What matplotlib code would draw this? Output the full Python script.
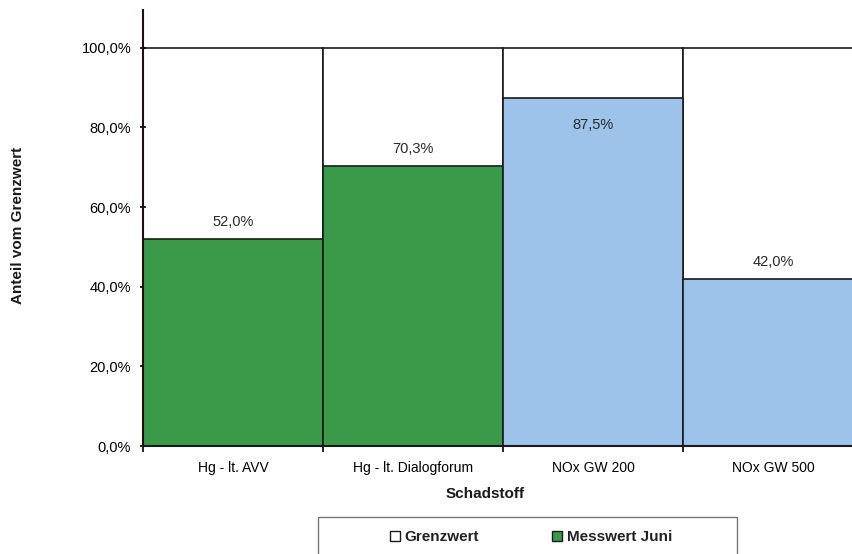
import matplotlib
matplotlib.use("Agg")
import matplotlib.pyplot as plt
from matplotlib.patches import Patch, Rectangle

plt.rcParams['font.family'] = ['Liberation Sans', 'DejaVu Sans']

categories = ["Hg - lt. AVV", "Hg - lt. Dialogforum", "NOx GW 200", "NOx GW 500"]
grenzwert = [100.0, 100.0, 100.0, 100.0]
messwert = [52.0, 70.3, 87.5, 42.0]
bar_colors = ["#3a9a4a", "#3a9a4a", "#9dc3ea", "#9dc3ea"]
yticks = [0, 20, 40, 60, 80, 100]

fig = plt.figure(figsize=(8.52, 5.54), dpi=100)
ax = fig.add_axes([143/852, 1-446/554, (863-143)/852, (446-10)/554])

x = list(range(len(categories)))
ax.bar(x, grenzwert, width=1.0, color="white", edgecolor="#1a1a1a", linewidth=1.2, zorder=1)
ax.bar(x, messwert, width=1.0, color=bar_colors, edgecolor="#1a1a1a", linewidth=1.2, zorder=2)

for xi, v in zip(x, messwert):
    label = f"{v:.1f}%".replace(".", ",")
    if v > 80:
        ax.text(xi, v - 7, label, ha="center", va="center", fontsize=10.5, color="#2a2a2a", zorder=3)
    else:
        ax.text(xi, v + 4.3, label, ha="center", va="center", fontsize=10.5, color="#2a2a2a", zorder=3)

ax.set_xlim(-0.5, len(categories) - 0.5)
ax.set_ylim(0, 109.5)
ax.set_yticks(yticks)
ax.set_yticklabels([f"{t:.1f}%".replace(".", ",") for t in yticks], fontsize=10.5)
ax.set_xticks(x)
ax.set_xticklabels(categories, fontsize=10)
ax.tick_params(axis="x", length=0, pad=11)
ax.set_xticks([i - 0.5 for i in range(len(categories) + 1)], minor=True)
ax.tick_params(axis="x", which="minor", length=4, width=1.2, direction="out")
ax.tick_params(axis="y", length=5, width=1.2, direction="inout", pad=6)

for s in ["top", "right"]:
    ax.spines[s].set_visible(False)
ax.spines["left"].set_linewidth(1.5)
ax.spines["bottom"].set_linewidth(1.5)
ax.spines["left"].set_color("#1a1010")
ax.spines["bottom"].set_color("#1a1a1a")

fig.text(485/852, 1 - 494/554, "Schadstoff", ha="center", va="center",
         fontsize=11, fontweight="bold", color="#1a1a1a")
fig.text(18/852, 1 - 225/554, "Anteil vom Grenzwert", rotation=90, ha="center", va="center",
         fontsize=11, fontweight="bold", color="#1a1a1a")

# legend frame
fig.patches.append(Rectangle((318/852, -0.05), (737-318)/852, 1 - 517/554 + 0.05,
                             transform=fig.transFigure, facecolor="white",
                             edgecolor="#777777", linewidth=1.0, zorder=0))

handles = [Patch(facecolor="white", edgecolor="#1a1a1a", label="Grenzwert"),
           Patch(facecolor="#3a9a4a", edgecolor="#1a1a1a", label="Messwert Juni")]
leg = fig.legend(handles=handles, ncol=2, loc="center",
                 bbox_to_anchor=(531/852, 1 - 537/554),
                 frameon=False, prop={"weight": "bold", "size": 11},
                 handlelength=0.65, handleheight=0.65,
                 handletextpad=0.3, borderpad=0.0, columnspacing=4.8)
for t in leg.get_texts():
    t.set_color("#222222")

fig.savefig("out.png", dpi=100)
